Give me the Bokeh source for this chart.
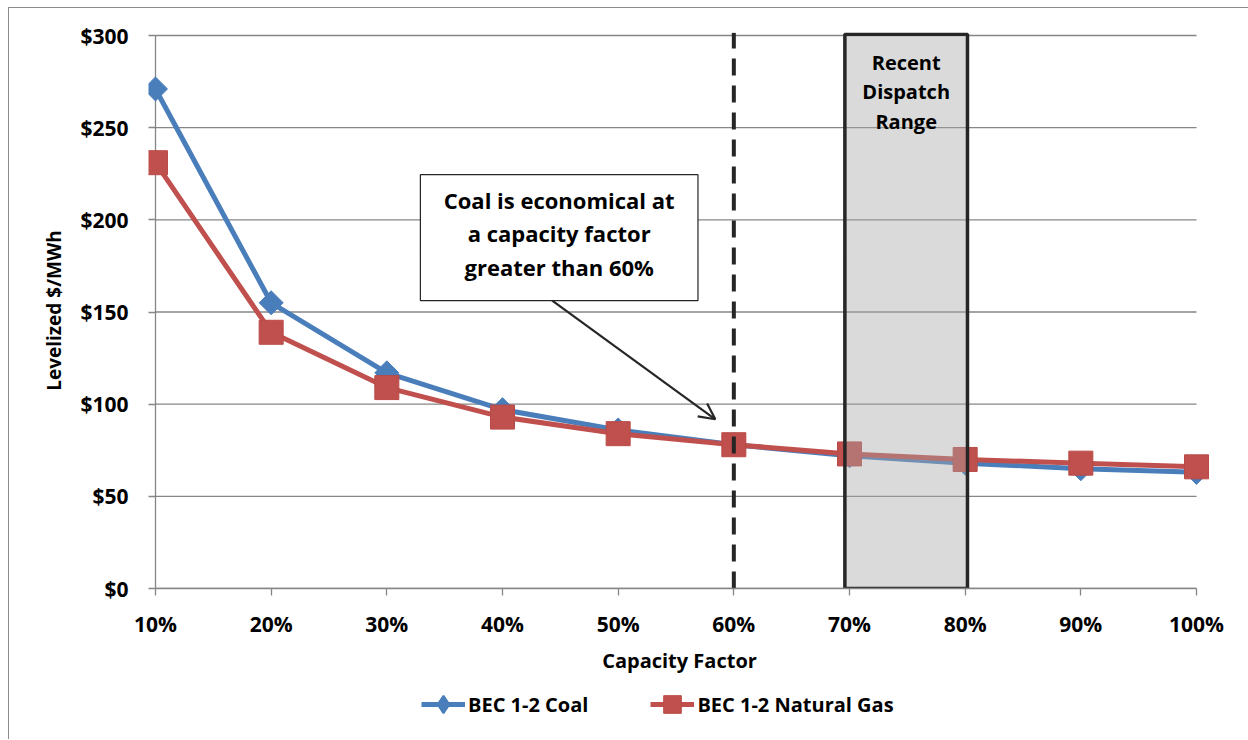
from bokeh.plotting import figure
from bokeh.layouts import column
from bokeh.models import (Range1d, FixedTicker, NumeralTickFormatter, Legend, LegendItem,
                          Arrow, OpenHead)
from bokeh.core.properties import value
from bokeh.embed import file_html
from bokeh.resources import INLINE
import numpy as np

# ---- data ----
capacity_factor = [10, 20, 30, 40, 50, 60, 70, 80, 90, 100]
coal = [271, 155, 117, 97, 86, 78, 72, 68, 65, 63]
natural_gas = [231, 139, 109, 93, 84, 78, 73, 70, 68, 66]
y_ticks = [0, 50, 100, 150, 200, 250, 300]
x_tick_labels = ["10%", "20%", "30%", "40%", "50%", "60%", "70%", "80%", "90%", "100%"]
series_names = ["BEC 1-2 Coal", "BEC 1-2 Natural Gas"]

threshold_cf = 60
dispatch_range = [69.6, 80.2]
dispatch_text = ["Recent", "Dispatch", "Range"]
note_text = ["Coal is economical at", "a capacity factor", "greater than 60%"]

FONT = "Open Sans"
GRID = "#868686"
BLUE = "#4a7ebb"
RED = "#c0504d"
DARK = "#262626"

p = figure(width=1239, height=670, output_backend="svg", toolbar_location=None,
           x_range=Range1d(9.395, 101.21), y_range=Range1d(0, 301.63),
           min_border_left=139, min_border_right=38, min_border_top=24, min_border_bottom=90)
p.outline_line_color = None
p.xgrid.visible = False
p.ygrid.visible = False

# gridlines from the y ticks
p.segment(x0=[capacity_factor[0]] * len(y_ticks), x1=[capacity_factor[-1]] * len(y_ticks),
          y0=y_ticks, y1=y_ticks, line_color=GRID, line_width=1.3)
# vertical axis line at the first category
p.segment(x0=[capacity_factor[0]], x1=[capacity_factor[0]], y0=[y_ticks[0]], y1=[y_ticks[-1]],
          line_color=GRID, line_width=1.3)

# axes
xa = p.xaxis[0]
xa.ticker = FixedTicker(ticks=capacity_factor)
xa.major_label_overrides = {c: t for c, t in zip(capacity_factor, x_tick_labels)}
xa.bounds = (capacity_factor[0], capacity_factor[-1])
xa.axis_line_color = GRID
xa.axis_line_width = 1.3
xa.major_tick_line_color = GRID
xa.major_tick_line_width = 1.3
xa.major_tick_in = 0
xa.major_tick_out = 7
xa.minor_tick_line_color = None
xa.major_label_standoff = 14
xa.major_label_text_font = FONT
xa.major_label_text_font_style = "bold"
xa.major_label_text_font_size = "21px"
xa.major_label_text_color = "black"
xa.axis_label = "Capacity Factor"
xa.axis_label_text_font = FONT
xa.axis_label_text_font_style = "bold"
xa.axis_label_text_font_size = "20px"
xa.axis_label_text_color = "black"
xa.axis_label_standoff = 6

ya = p.yaxis[0]
ya.ticker = FixedTicker(ticks=y_ticks)
ya.formatter = NumeralTickFormatter(format="$0")
ya.axis_line_color = None
ya.major_tick_line_color = GRID
ya.major_tick_line_width = 1.3
ya.major_tick_in = 7
ya.major_tick_out = 0
ya.minor_tick_line_color = None
ya.major_label_standoff = 20
ya.major_label_text_font = FONT
ya.major_label_text_font_style = "bold"
ya.major_label_text_font_size = "21px"
ya.major_label_text_color = "black"
ya.axis_label = "Levelized $/MWh"
ya.axis_label_text_font = FONT
ya.axis_label_text_font_style = "bold"
ya.axis_label_text_font_size = "19px"
ya.axis_label_text_color = "black"
ya.axis_label_standoff = 10

# series
line_kw = dict(line_width=5, line_join="round")
coal_marker = dict(marker="square", angle=np.pi / 4, fill_color=BLUE, line_color=BLUE)
gas_marker = dict(marker="square", fill_color=RED, line_color="#b94a47", line_width=1)
p.line(capacity_factor, coal, line_color=BLUE, **line_kw)
p.scatter(capacity_factor, coal, size=17, **coal_marker)
p.line(capacity_factor, natural_gas, line_color=RED, **line_kw)
p.scatter(capacity_factor, natural_gas, size=24, **gas_marker)

# dispatch range box (drawn over series, translucent)
p.quad(left=[dispatch_range[0]], right=[dispatch_range[1]], bottom=[0], top=[300.7],
       fill_color="#a6a6a6", fill_alpha=0.42, line_color=DARK, line_width=3.5)
p.text(x=[sum(dispatch_range) / 2] * 3, y=[285.5, 269.5, 253.5], text=dispatch_text,
       text_font=value(FONT), text_font_style="bold", text_font_size="20px",
       text_align="center", text_baseline="middle", text_color="black")

# 60% threshold line
p.segment(x0=[threshold_cf], x1=[threshold_cf], y0=[0], y1=[301.5], line_color=DARK,
          line_width=4, line_dash="17 10")

# annotation box + arrow
p.quad(left=[32.9], right=[56.9], bottom=[156.2], top=[224.5], fill_color="white",
       line_color=DARK, line_width=1.2)
p.text(x=[44.9] * 3, y=[211.0, 192.8, 174.6], text=note_text,
       text_font=value(FONT), text_font_style="bold", text_font_size="22px",
       text_align="center", text_baseline="middle", text_color="black")
p.add_layout(Arrow(end=OpenHead(size=16, line_width=2.2, line_color=DARK),
                   x_start=44.3, y_start=156.2, x_end=58.4, y_end=91.8,
                   line_width=2.2, line_color=DARK))

# legend strip (separate figure so the legend is not clipped by the plot frame);
# its renderers reuse the series but the view range keeps them out of sight
lg = figure(width=1239, height=61, output_backend="svg", toolbar_location=None,
            x_range=Range1d(0, 1), y_range=Range1d(-1001, -1000),
            min_border_left=0, min_border_right=0, min_border_top=0, min_border_bottom=0)
lg.axis.visible = False
lg.grid.visible = False
lg.outline_line_color = None
r1 = lg.line(capacity_factor, coal, line_color=BLUE, **line_kw)
r2 = lg.scatter(capacity_factor, coal, marker="diamond", fill_color=BLUE, line_color=BLUE,
                line_width=2)
r3 = lg.line(capacity_factor, natural_gas, line_color=RED, **line_kw)
r4 = lg.scatter(capacity_factor, natural_gas, **gas_marker)
legend = Legend(items=[LegendItem(label=series_names[0], renderers=[r1, r2]),
                       LegendItem(label=series_names[1], renderers=[r3, r4])],
                orientation="horizontal", location=(273, 13),
                glyph_width=44, glyph_height=44, label_standoff=3, spacing=62,
                label_text_font=FONT, label_text_font_style="bold",
                label_text_font_size="20px", label_text_color="black",
                border_line_color=None, background_fill_alpha=0, padding=0, margin=0)
lg.add_layout(legend)

layout = column(p, lg, spacing=0, margin=(7, 0, 0, 8),
                styles={"border-left": "1px solid #8c8c8c", "border-top": "1px solid #8c8c8c"})

open("out.html", "w").write(file_html(layout, INLINE))
